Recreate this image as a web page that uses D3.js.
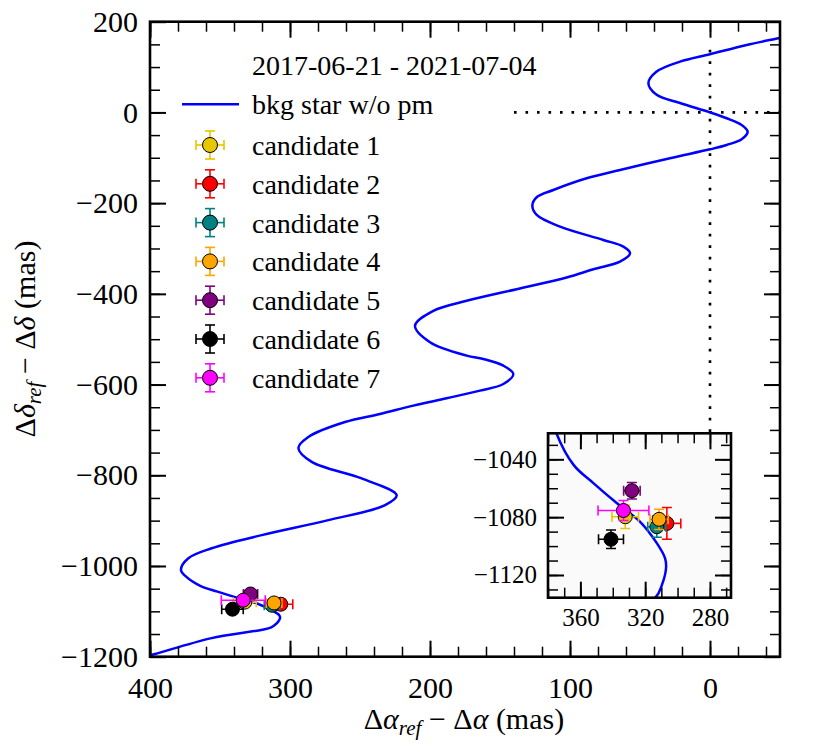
<!DOCTYPE html>
<html>
<head>
<meta charset="utf-8">
<script src="https://cdn.jsdelivr.net/npm/d3@7"></script>
<style>
  body { margin: 0; background: white; }
</style>
</head>
<body>
<div id="chart"></div>
<script>

// background star track w/o proper motion (mas), top to bottom
var track_ra = [-54, -48.8, -26.2, 0, 21.4, 38.1, 44, 38.1, 21.4, 0,
  -11.9, -22.6, -26.9, -22.6, -11.9, 0, 28.6, 64.3, 88.1, 111.9, 123.8, 126.9, 123.8, 107.1, 76.2, 61.9,
  57.1, 64.3, 83.3, 102.4, 138.1, 173.8, 197.6, 210.7, 200, 173.8, 161.9, 147.6, 140.5, 147.6, 164.3, 188.1,
  211.9, 235.7, 260.7, 286.9, 294, 284.5, 248.8, 223.8, 232.1, 272.6, 320.2, 356, 372.6, 377.9, 374.8,
  364.1, 351.8, 337.4, 323.1, 312.8, 307.7, 307.1, 309.7, 313.8, 356, 396.4, 406];
var track_dec = [167, 163.5, 148.8, 128.3, 112, 90, 64.6, 39, 20.7, 0,
  -12.9, -27.7, -42.4, -59.2, -71.8, -81.4, -101, -127, -145.2, -171, -187, -205.6, -226, -251.8, -281.2,
  -295.9, -310.6, -329, -345.8, -364, -389.7, -415.4, -437.4, -470.3, -506.8, -536.3, -543.7, -558.4,
  -576.7, -598.7, -613.4, -630.2, -646.5, -664.8, -682.6, -715.6, -739.8, -770.5, -807, -844, -866,
  -898.9, -931.9, -961, -983, -1008.8, -1022, -1044, -1056.6, -1070.4, -1083.2, -1098, -1108.5, -1115,
  -1127, -1135.7, -1159, -1194, -1202];

// candidates (mas)
var cand_labels = ['candidate 1', 'candidate 2', 'candidate 3', 'candidate 4', 'candidate 5', 'candidate 6', 'candidate 7'];
var cand_ra = [332.3, 306.6, 312.8, 311.4, 328.2, 341.1, 333.4];
var cand_dec = [-1079.7, -1084.3, -1086.6, -1081.5, -1061.7, -1095.3, -1075.4];
var cand_ra_err = [8.2, 8.6, 5.6, 5.6, 5.1, 7.7, 15.7];
var cand_dec_err = [8.1, 11, 7.3, 7, 5.7, 6.4, 6.9];

var epoch_label = '2017-06-21 - 2021-07-04';
var track_label = 'bkg star w/o pm';

// reference position guides (dotted)
var guide_h_ra = [140, -50];
var guide_v_dec = [138, -1000];

var x_major = [400, 300, 200, 100, 0];
var y_major = [200, 0, -200, -400, -600, -800, -1000, -1200];
var inset_x_major = [360, 320, 280];
var inset_y_major = [-1040, -1080, -1120];

// styles
var cand_colors = ['#e6c700', 'red', 'teal', 'orange', 'purple', 'black', 'magenta'];
var font_family = '"Liberation Serif", "DejaVu Serif", serif';
var track_color = 'blue';

var width = 830;
var height = 747;

var svg = d3.select('#chart')
  .append('svg')
  .attr('width', width)
  .attr('height', height)
  .style('background', 'white');

// main axes
var x = d3.scaleLinear().domain([400, -50]).range([150, 780]);
var y = d3.scaleLinear().domain([200, -1200]).range([21.7, 656.7]);

// inset axes
var xi = d3.scaleLinear().domain([380, 267]).range([548, 731]);
var yi = d3.scaleLinear().domain([-1022, -1135.7]).range([433.3, 597.7]);

function add_clip(id, xs, ys){
  svg.append('clipPath')
    .attr('id', id)
    .append('rect')
    .attr('x', xs.range()[0])
    .attr('y', ys.range()[0])
    .attr('width', xs.range()[1] - xs.range()[0])
    .attr('height', ys.range()[1] - ys.range()[0]);
}

add_clip('clip-main', x, y);
add_clip('clip-inset', xi, yi);

function draw_ticks(g, xs, ys, xmaj, ymaj, xminor_count, yminor_count, fs, pad_x, pad_y){
  var x0 = xs.range()[0], x1 = xs.range()[1];
  var y0 = ys.range()[0], y1 = ys.range()[1];
  var maj_len = 16;
  var min_len = 10;

  var axes = [
    { axis: d3.axisBottom, scale: xs, trans: 'translate(0,' + y1 + ')', maj: xmaj, n: xminor_count, label: true, pad: pad_x },
    { axis: d3.axisTop, scale: xs, trans: 'translate(0,' + y0 + ')', maj: xmaj, n: xminor_count, label: false },
    { axis: d3.axisLeft, scale: ys, trans: 'translate(' + x0 + ',0)', maj: ymaj, n: yminor_count, label: true, pad: pad_y },
    { axis: d3.axisRight, scale: ys, trans: 'translate(' + x1 + ',0)', maj: ymaj, n: yminor_count, label: false }
  ];

  axes.forEach(function(a){
    // minor ticks
    var minor = g.append('g')
      .attr('transform', a.trans)
      .call(a.axis(a.scale).ticks(a.n).tickSize(-min_len).tickSizeOuter(0).tickFormat(''));
    minor.select('.domain').remove();
    minor.selectAll('line').style('stroke', 'black').style('stroke-width', 1.5);

    // major ticks
    var major = g.append('g')
      .attr('transform', a.trans)
      .call(a.axis(a.scale).tickValues(a.maj).tickSize(-maj_len).tickSizeOuter(0)
        .tickPadding(a.pad || 0)
        .tickFormat(a.label ? d3.format('d') : ''));
    major.select('.domain').remove();
    major.selectAll('line').style('stroke', 'black').style('stroke-width', 2);
    major.selectAll('text')
      .style('font-family', font_family)
      .style('font-size', fs + 'px')
      .style('fill', 'black');
  });

  g.append('rect')
    .attr('x', x0)
    .attr('y', y0)
    .attr('width', x1 - x0)
    .attr('height', y1 - y0)
    .style('fill', 'none')
    .style('stroke', 'black')
    .style('stroke-width', 2.6);
}

function draw_track(g, xs, ys, clip_id){
  var line = d3.line()
    .x(function(i){ return xs(track_ra[i]); })
    .y(function(i){ return ys(track_dec[i]); })
    .curve(d3.curveCatmullRom.alpha(0.5));

  g.append('path')
    .datum(d3.range(track_ra.length))
    .attr('d', line)
    .attr('clip-path', 'url(#' + clip_id + ')')
    .style('fill', 'none')
    .style('stroke', track_color)
    .style('stroke-width', 2.5);
}

// one errorbar marker, px coords
function draw_errorbar(g, cx, cy, dx, dy, color, r){
  var cap = 5;
  var eb = g.append('g');
  var segs = [
    [cx - dx, cy, cx + dx, cy],
    [cx, cy - dy, cx, cy + dy],
    [cx - dx, cy - cap, cx - dx, cy + cap],
    [cx + dx, cy - cap, cx + dx, cy + cap],
    [cx - cap, cy - dy, cx + cap, cy - dy],
    [cx - cap, cy + dy, cx + cap, cy + dy]
  ];
  eb.selectAll('line')
    .data(segs)
    .enter()
    .append('line')
    .attr('x1', function(d){ return d[0]; })
    .attr('y1', function(d){ return d[1]; })
    .attr('x2', function(d){ return d[2]; })
    .attr('y2', function(d){ return d[3]; })
    .style('stroke', color)
    .style('stroke-width', 1.6);
  eb.append('circle')
    .attr('cx', cx)
    .attr('cy', cy)
    .attr('r', r)
    .style('fill', color)
    .style('stroke', 'black')
    .style('stroke-width', 1);
}

function draw_candidates(g, xs, ys, clip_id){
  var pts = g.append('g').attr('clip-path', 'url(#' + clip_id + ')');
  cand_labels.forEach(function(d, i){
    var cx = xs(cand_ra[i]);
    var cy = ys(cand_dec[i]);
    var dx = Math.abs(xs(cand_ra[i] + cand_ra_err[i]) - cx);
    var dy = Math.abs(ys(cand_dec[i] + cand_dec_err[i]) - cy);
    draw_errorbar(pts, cx, cy, dx, dy, cand_colors[i], 7);
  });
}

/////////////////////////////
// main panel
/////////////////////////////
var main_g = svg.append('g').classed('main-panel', true);

// dotted reference lines
main_g.append('line')
  .attr('x1', x(guide_h_ra[0])).attr('x2', x(guide_h_ra[1]))
  .attr('y1', y(0)).attr('y2', y(0))
  .style('stroke', 'black')
  .style('stroke-width', 2.6)
  .style('stroke-dasharray', '2.6,8.9');

main_g.append('line')
  .attr('x1', x(0)).attr('x2', x(0))
  .attr('y1', y(guide_v_dec[0])).attr('y2', y(guide_v_dec[1]))
  .style('stroke', 'black')
  .style('stroke-width', 2.6)
  .style('stroke-dasharray', '2.6,8.9');

draw_track(main_g, x, y, 'clip-main');
draw_candidates(main_g, x, y, 'clip-main');
draw_ticks(main_g, x, y, x_major, y_major, 22, 28, 30, 20, 12);

// axis titles
var x_title = svg.append('text')
  .attr('x', 464)
  .attr('y', 729)
  .style('font-family', font_family)
  .style('font-size', '30px')
  .style('text-anchor', 'middle');
x_title.append('tspan').text('Δ');
x_title.append('tspan').style('font-style', 'italic').text('α');
x_title.append('tspan').style('font-style', 'italic').style('font-size', '21px').attr('dy', 6).text('ref');
x_title.append('tspan').attr('dy', -6).text(' − Δ');
x_title.append('tspan').style('font-style', 'italic').text('α');
x_title.append('tspan').text(' (mas)');

var y_title = svg.append('text')
  .attr('transform', 'translate(35,339) rotate(-90)')
  .style('font-family', font_family)
  .style('font-size', '30px')
  .style('text-anchor', 'middle');
y_title.append('tspan').text('Δ');
y_title.append('tspan').style('font-style', 'italic').text('δ');
y_title.append('tspan').style('font-style', 'italic').style('font-size', '21px').attr('dy', 6).text('ref');
y_title.append('tspan').attr('dy', -6).text(' − Δ');
y_title.append('tspan').style('font-style', 'italic').text('δ');
y_title.append('tspan').text(' (mas)');

/////////////////////////////
// legend
/////////////////////////////
var legend = svg.append('g').classed('legend', true);
var leg_text_x = 252;
var leg_fs = 28;

legend.append('text')
  .attr('x', leg_text_x)
  .attr('y', 75)
  .style('font-family', font_family)
  .style('font-size', leg_fs + 'px')
  .text(epoch_label);

legend.append('line')
  .attr('x1', 182).attr('x2', 239)
  .attr('y1', 104.3).attr('y2', 104.3)
  .style('stroke', track_color)
  .style('stroke-width', 2.5);

legend.append('text')
  .attr('x', leg_text_x)
  .attr('y', 114)
  .style('font-family', font_family)
  .style('font-size', leg_fs + 'px')
  .text(track_label);

cand_labels.forEach(function(d, i){
  var row_y = 145 + i * 38.8;
  draw_errorbar(legend, 210, row_y, 14, 14, cand_colors[i], 7.5);
  legend.append('text')
    .attr('x', leg_text_x)
    .attr('y', row_y + 10)
    .style('font-family', font_family)
    .style('font-size', leg_fs + 'px')
    .text(d);
});

/////////////////////////////
// inset zoom
/////////////////////////////
var inset_g = svg.append('g').classed('inset-panel', true);

inset_g.append('rect')
  .attr('x', xi.range()[0])
  .attr('y', yi.range()[0])
  .attr('width', xi.range()[1] - xi.range()[0])
  .attr('height', yi.range()[1] - yi.range()[0])
  .style('fill', '#fafafa');

draw_track(inset_g, xi, yi, 'clip-inset');
draw_candidates(inset_g, xi, yi, 'clip-inset');
draw_ticks(inset_g, xi, yi, inset_x_major, inset_y_major, 11, 11, 25, 11, 11);

</script>
</body>
</html>
